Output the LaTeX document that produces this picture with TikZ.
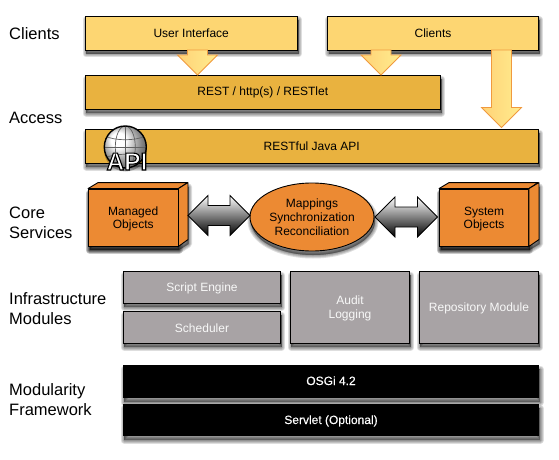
\documentclass[tikz,border=0pt]{standalone}
\usepackage{fontspec}
\setmainfont{Liberation Sans}
\newfontfamily\heavyfont[FakeBold=0.25]{Liberation Sans}
\usetikzlibrary{calc,shapes.geometric}
\definecolor{lightbox}{HTML}{FDD672}
\definecolor{darkbox}{HTML}{E9B23F}
\definecolor{orangebox}{HTML}{EC8A33}
\definecolor{greybox}{HTML}{A8A3A5}
\definecolor{greytext}{HTML}{F8F8F8}
\definecolor{arrowedge}{HTML}{F09A3E}
\definecolor{arrowleft}{HTML}{FFD277}
\definecolor{arrowright}{HTML}{FFEC8E}
\tikzset{
  sh/.style={preaction={draw=black,fill=black,opacity=.13,line width=#1,line join=round,transform canvas={xshift=1pt,yshift=-4pt}}},
  softshadow/.style={sh=7pt,sh=5pt,sh=3pt,sh=1pt},
  base/.style={softshadow,draw=black,line width=.9pt,inner sep=0pt,font=\fontsize{12}{14}\selectfont},
  lightnode/.style={base,fill=lightbox},
  darknode/.style={base,fill=darkbox},
  corenode/.style={base,fill=orangebox},
  greynode/.style={base,fill=greybox,text=greytext},
  blacknode/.style={softshadow,fill=black,text=white,inner sep=0pt,font=\fontsize{12}{14}\selectfont\heavyfont},
  sidelabel/.style={anchor=west,align=left,inner sep=0pt,font=\fontsize{16.5}{20}\selectfont},
  blockarrow/.style={draw=arrowedge,line width=.8pt,line join=miter,left color=arrowleft,right color=arrowright},
  grayarrow/.style={draw=black,line width=.8pt,top color=white,bottom color=black,middle color=gray},
  facet/.style={draw=black,line width=.9pt,line join=round,fill=orangebox},
  gridline/.style={draw=gray!75!black,line width=.7pt},
}
% text whose first baseline lies a given distance from the node centre
\newcommand{\tb}[2]{\raisebox{#1pt}[0pt][0pt]{\begin{tabular}[t]{@{}c@{}}#2\end{tabular}}}
\newcommand{\blockdown}[2]{\path[blockarrow] let \p1=(#1), \p2=(#2) in
  (\x1-10pt,\y1) -- (\x1+10pt,\y1) -- (\x1+10pt,\y2+20pt) -- (\x1+20pt,\y2+20pt) -- (\x2,\y2)
  -- (\x1-20pt,\y2+20pt) -- (\x1-10pt,\y2+20pt) -- cycle;}
\newcommand{\blockdouble}[2]{\path[grayarrow] let \p1=(#1), \p2=(#2) in
  (\x1,\y1) -- (\x1+20pt,\y1+20pt) -- (\x1+20pt,\y1+10pt) -- (\x2-20pt,\y1+10pt) -- (\x2-20pt,\y1+20pt)
  -- (\x2,\y1) -- (\x2-20pt,\y1-20pt) -- (\x2-20pt,\y1-10pt) -- (\x1+20pt,\y1-10pt) -- (\x1+20pt,\y1-20pt) -- cycle;}
\begin{document}
\begin{tikzpicture}[x=1pt,y=-1pt]
\useasboundingbox[fill=white] (0,0) rectangle (559,460);
% side labels
\node[sidelabel] (lclients) at (9,33.5) {Clients};
\node[sidelabel] (laccess) at (9,117.5) {Access};
\node[sidelabel] (lcore) at (9,222.7) {Core\\Services};
\node[sidelabel] (linfra) at (9,308.7) {Infrastructure\\Modules};
\node[sidelabel] (lmod) at (9,399.7) {Modularity\\Framework};
% client and access layers
\node[darknode,minimum width=355.5pt,minimum height=34pt] (rest) at (262.75,92) {\tb{-4}{REST / http(s) / RESTlet}};
\node[darknode,minimum width=453.5pt,minimum height=34pt] (java) at (311.75,146) {\tb{-4}{RESTful Java API}};
\node[lightnode,minimum width=212.5pt,minimum height=34pt] (ui) at (191.25,33) {\tb{-4.4}{User Interface}};
\node[lightnode,minimum width=211pt,minimum height=34pt] (clients) at (433,33) {\tb{-4.4}{Clients}};
\coordinate (a1s) at (197.5,50); \coordinate (a1e) at (197.5,75);
\coordinate (a2s) at (381,50); \coordinate (a2e) at (381,75);
\coordinate (a3s) at (501.5,50); \coordinate (a3e) at (501.5,127.5);
\blockdown{a1s}{a1e}
\blockdown{a2s}{a2e}
\blockdown{a3s}{a3e}
% globe
\begin{scope}
\fill[black,opacity=.25] (125.5,150) circle (21.5);
\shade[ball color=white,draw=none] (125.3,147) circle (21);
\clip (125.3,147) circle (21);
\draw[gridline] (125.3,147) ellipse (10 and 21);
\draw[gridline] (125.3,126) -- (125.3,168);
\draw[gridline] (104,147) -- (147,147);
\draw[gridline] (105,136) .. controls (115,141) and (135,141) .. (146,136);
\draw[gridline] (105,158) .. controls (115,153) and (135,153) .. (146,158);
\end{scope}
\draw[black,line width=1.4pt] (125.3,147) circle (21);
\node[font=\fontsize{24.5}{24}\selectfont\bfseries,inner sep=0pt,anchor=base] (api) at (127,170)
  {\special{pdf:code q 2 Tr 1.1 w 0 0 0 RG 1 1 1 rg}API\special{pdf:code 0 Tr Q}};
% core services
\path[softshadow,fill=black] (88.5,189) -- (98.5,183) -- (187.5,183) -- (187.5,240) -- (178,246) -- (88.5,246) -- cycle;
\node[corenode,minimum width=89.5pt,minimum height=57pt,font=\fontsize{12}{13.7}\selectfont] (managed) at (133.25,217.5) {\tb{2.5}{Managed\\Objects}};
\draw[facet] (managed.north west) -- ++(10,-6) -- ++(89.5,0) -- (managed.north east) -- cycle;
\draw[facet] (managed.north east) -- ++(9.5,-6) -- ++(0,57) -- (managed.south east) -- cycle;
\path[softshadow,fill=black] (439.5,189) -- (449.5,183) -- (538.5,183) -- (538.5,240) -- (528.5,246) -- (439.5,246) -- cycle;
\node[corenode,minimum width=89pt,minimum height=57pt,font=\fontsize{12}{13.7}\selectfont] (system) at (484,217.5) {\tb{2.5}{System\\Objects}};
\draw[facet] (system.north west) -- ++(10,-6) -- ++(89,0) -- (system.north east) -- cycle;
\draw[facet] (system.north east) -- ++(10,-6) -- ++(0,57) -- (system.south east) -- cycle;
\node[corenode,ellipse,minimum width=124pt,minimum height=68pt] (sync) at (312,217) {\tb{10}{Mappings\\Synchronization\\Reconciliation}};
\coordinate (d1a) at (188,215.5); \coordinate (d1b) at (250,215.5);
\coordinate (d2a) at (375,217); \coordinate (d2b) at (437.5,217);
\blockdouble{d1a}{d1b}
\blockdouble{d2a}{d2b}
% infrastructure
\node[greynode,minimum width=157.5pt,minimum height=32pt] (script) at (202,287.3) {\tb{-4.2}{Script Engine}};
\node[greynode,minimum width=157.5pt,minimum height=32pt] (sched) at (202,327.3) {\tb{-5}{Scheduler}};
\node[greynode,minimum width=119.5pt,minimum height=72pt] (audit) at (350,307.3) {\tb{3}{Audit\\Logging}};
\node[greynode,minimum width=119.5pt,minimum height=72pt] (repo) at (479,307.3) {\tb{-3.7}{Repository Module}};
% modularity
\node[blacknode,minimum width=416pt,minimum height=33pt] (osgi) at (331,381.5) {\tb{-3.5}{OSGi 4.2}};
\node[blacknode,minimum width=416pt,minimum height=32pt] (servlet) at (331,420) {\tb{-4}{Servlet (Optional)}};
\end{tikzpicture}
\end{document}
